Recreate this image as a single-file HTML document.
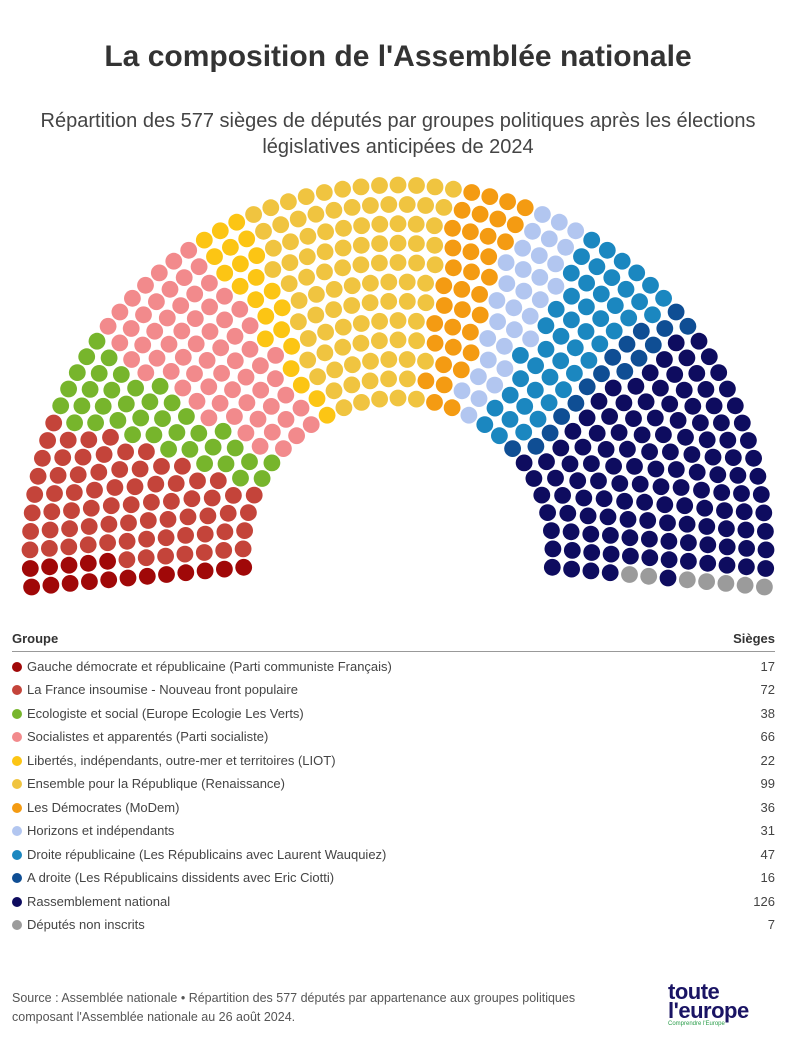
<!DOCTYPE html>
<html><head><meta charset="utf-8">
<style>
body{margin:0;width:796px;height:1040px;background:#fff;font-family:"Liberation Sans",sans-serif;color:#333;position:relative;overflow:hidden}
.t{position:absolute;top:40px;left:0;width:796px;text-align:center;font-size:30px;font-weight:bold;color:#333}
.s{position:absolute;top:108px;left:20px;width:756px;text-align:center;font-size:20px;line-height:26px;color:#444}
.hd{position:absolute;top:631px;left:12px;width:763px;font-size:13px;font-weight:bold;color:#333;border-bottom:1px solid #999;padding-bottom:5px}
.hd span{float:right}
.row{position:absolute;left:12px;width:763px;font-size:13px;color:#444;height:20px;line-height:20px}
.row i{display:inline-block;width:10px;height:10px;border-radius:50%;margin-right:5px;vertical-align:-1px}
.row b{float:right;font-weight:normal}
.f{position:absolute;top:989px;left:12px;font-size:12.5px;line-height:19px;color:#555}
.logo{position:absolute;left:668px;top:982px;color:#1a1464;font-weight:bold;font-size:22px;line-height:19px;letter-spacing:-0.5px}
.logo small{display:block;font-size:6px;color:#2a9d4a;line-height:9px;font-weight:normal;letter-spacing:0}
</style></head><body>
<div class="t">La composition de l'Assemblée nationale</div>
<div class="s">Répartition des 577 sièges de députés par groupes politiques après les élections législatives anticipées de 2024</div>
<svg id="p" width="796" height="620" style="position:absolute;left:0;top:0"></svg>
<div class="hd">Groupe<span>Sièges</span></div>
<div id="lg"></div>
<div class="f">Source : Assemblée nationale • Répartition des 577 députés par appartenance aux groupes politiques<br>composant l'Assemblée nationale au 26 août 2024.</div>
<div class="logo">toute<br>l'europe<small>Comprendre l'Europe</small></div>
<script>
var P=[["Gauche démocrate et républicaine (Parti communiste Français)",17,"#a00808"],
["La France insoumise - Nouveau front populaire",72,"#c4443a"],
["Ecologiste et social (Europe Ecologie Les Verts)",38,"#77b52c"],
["Socialistes et apparentés (Parti socialiste)",66,"#f28a8c"],
["Libertés, indépendants, outre-mer et territoires (LIOT)",22,"#fcc514"],
["Ensemble pour la République (Renaissance)",99,"#f0c440"],
["Les Démocrates (MoDem)",36,"#f49b12"],
["Horizons et indépendants",31,"#b2c6f0"],
["Droite républicaine (Les Républicains avec Laurent Wauquiez)",47,"#1b87c0"],
["A droite (Les Républicains dissidents avec Eric Ciotti)",16,"#0f4e94"],
["Rassemblement national",126,"#0e0c5f"],
["Députés non inscrits",7,"#9b9b9b"]];
var lg="";P.forEach(function(p,i){lg+='<div class="row" style="top:'+(657+i*23.45)+'px"><i style="background:'+p[2]+'"></i>'+p[0]+'<b>'+p[1]+'</b></div>';});
document.getElementById("lg").innerHTML=lg;
var cx=398,cy=553,R0=155,R1=368,N=12,tot=577,d=5.3*Math.PI/180,a0=Math.PI+d,a1=-d,span=a0-a1;
var rs=[],sum=0;for(var i=0;i<N;i++){var r=R0+(R1-R0)*i/(N-1);rs.push(r);sum+=r;}
var ns=rs.map(function(r){return Math.round(tot*r/sum);});var s=ns.reduce(function(a,b){return a+b},0);
var k=N-1;while(s!=tot){ns[k]+=s<tot?1:-1;s+=s<tot?1:-1;k=(k-1+N)%N;}
var pts=[];for(i=0;i<N;i++){for(var j=0;j<ns[i];j++){var a=a0-span*j/(ns[i]-1);pts.push([a,rs[i]]);}}
pts.sort(function(x,y){return y[0]-x[0]||x[1]-y[1];});
var out="",idx=0;P.forEach(function(p){for(var q=0;q<p[1];q++){var t=pts[idx++];out+='<circle cx="'+(cx+t[1]*Math.cos(t[0])).toFixed(1)+'" cy="'+(cy-t[1]*Math.sin(t[0])).toFixed(1)+'" r="8.4" fill="'+p[2]+'"/>';}});
document.getElementById("p").innerHTML=out;
</script>
</body></html>
